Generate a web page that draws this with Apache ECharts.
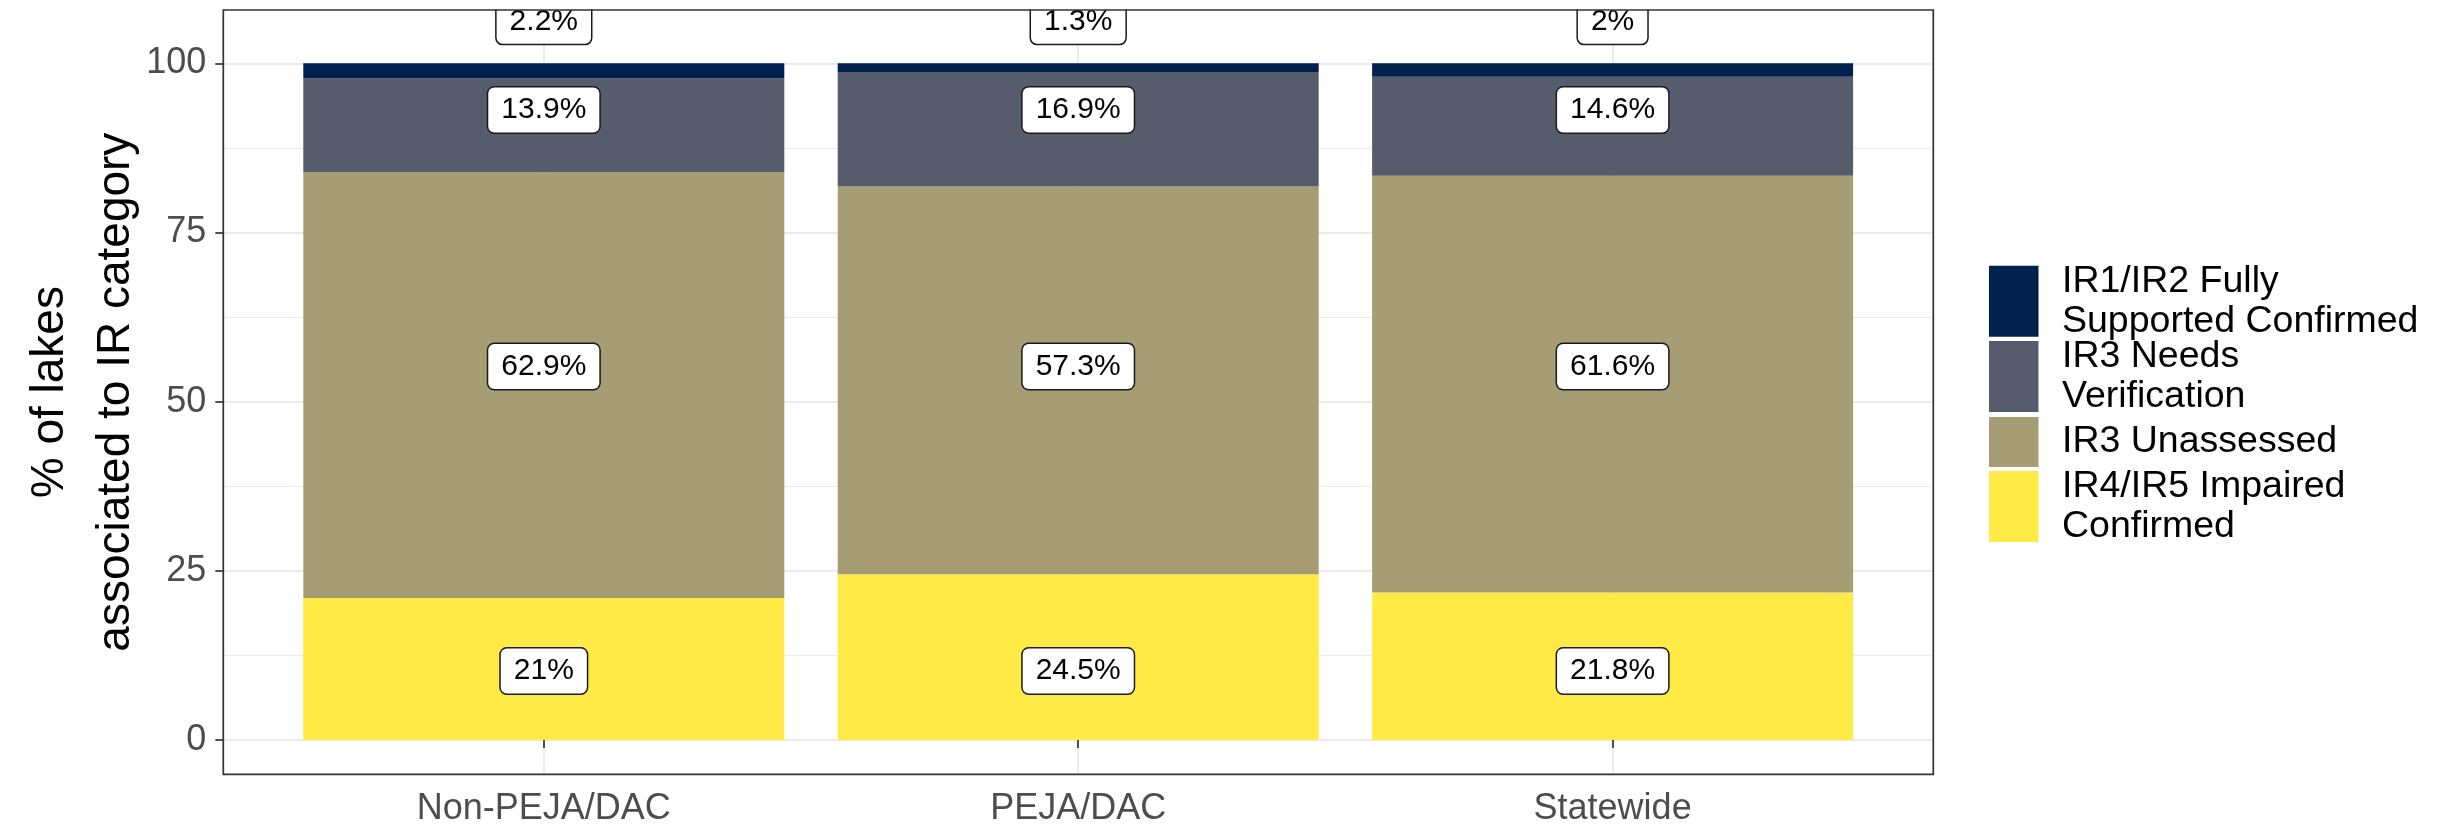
<!DOCTYPE html>
<html>
<head>
<meta charset="utf-8">
<script src="https://cdn.jsdelivr.net/npm/echarts@6/dist/echarts.min.js"></script>
<style>
html,body{margin:0;padding:0;background:#fff;}
#chart{width:2446px;height:828px;}
</style>
</head>
<body>
<div id="chart"></div>
<script>
// ---- data ----
const categories = ['Non-PEJA/DAC', 'PEJA/DAC', 'Statewide'];
const seriesNames = [
  'IR1/IR2 Fully Supported Confirmed',
  'IR3 Needs Verification',
  'IR3 Unassessed',
  'IR4/IR5 Impaired Confirmed'
];
const legendLabels = [
  'IR1/IR2 Fully\nSupported Confirmed',
  'IR3 Needs\nVerification',
  'IR3 Unassessed',
  'IR4/IR5 Impaired\nConfirmed'
];
const ir12 = [2.2, 1.3, 2];
const ir3Needs = [13.9, 16.9, 14.6];
const ir3Unassessed = [62.9, 57.3, 61.6];
const ir45 = [21, 24.5, 21.8];
const yTicks = [0, 25, 50, 75, 100];
// label anchor heights (percent units) for each layer: IR1/IR2, IR3 Needs, IR3 Unassessed, IR4/IR5
const labelY = [106.2, 93.1, 55.2, 10.2];

const colors = ['#00204D', '#575C6D', '#A69D75', '#FFEA46'];
const FONT = '"Liberation Sans", Arial, sans-serif';

// ---- build ----
const valuesByLayer = [ir12, ir3Needs, ir3Unassessed, ir45];
const stackOrder = [3, 2, 1, 0]; // bottom to top
const barSeries = stackOrder.map(i => ({
  name: seriesNames[i],
  type: 'bar',
  stack: 'total',
  xAxisIndex: 0,
  yAxisIndex: 0,
  barWidth: 481,
  clip: false,
  itemStyle: { color: colors[i] },
  emphasis: { disabled: true },
  data: valuesByLayer[i].slice(),
  z: 2
}));

const labelData = [];
valuesByLayer.forEach((arr, i) => {
  arr.forEach((v, c) => labelData.push({ value: [c, labelY[i], v] }));
});

const labelSeries = {
  type: 'scatter',
  xAxisIndex: 0,
  yAxisIndex: 0,
  symbol: 'rect',
  symbolSize: 0.1,
  itemStyle: { color: 'rgba(0,0,0,0)', opacity: 1 },
  emphasis: { disabled: true },
  silent: true,
  clip: false,
  z: 5,
  label: {
    show: true,
    position: 'inside',
    formatter: p => p.value[2] + '%',
    fontFamily: FONT,
    fontSize: 30,
    lineHeight: 30,
    color: '#000',
    opacity: 1,
    backgroundColor: '#ffffff',
    borderColor: '#1a1a1a',
    borderWidth: 1.5,
    borderRadius: 6,
    padding: [8, 13, 7, 13]
  },
  data: labelData
};

const legendTops = [261.2, 336.5, 417, 466.5];
const legends = seriesNames.map((n, i) => ({
  data: [n],
  orient: 'vertical',
  left: 1989,
  top: legendTops[i],
  padding: 0,
  itemWidth: 49.5,
  itemHeight: i === 2 ? 50 : 71,
  icon: 'rect',
  selectedMode: false,
  formatter: name => legendLabels[seriesNames.indexOf(name)],
  textStyle: {
    fontFamily: FONT,
    fontSize: 37.5,
    lineHeight: 40,
    color: '#000',
    padding: [0, 0, 0, 18.5]
  }
}));

const chart = echarts.init(document.getElementById('chart'), null, { renderer: 'canvas' });
chart.setOption({
  backgroundColor: '#fff',
  animation: false,
  grid: [
    { left: 543.8, right: 833.4, top: 10, bottom: 53.7 },
    { left: 223.3, right: 512.7, top: 63.3, bottom: 88 }
  ],
  legend: legends,
  xAxis: [
    {
      type: 'category',
      gridIndex: 0,
      data: categories,
      boundaryGap: false,
      axisLine: { show: false },
      axisTick: { show: true, inside: false, length: 8, lineStyle: { color: '#333333', width: 1.7 } },
      axisLabel: { show: true, interval: 0, margin: 17, color: '#4D4D4D', fontSize: 36, fontFamily: FONT },
      splitLine: { show: true, lineStyle: { color: '#EBEBEB', width: 2 } },
      z: 0
    },
    {
      type: 'value',
      gridIndex: 1,
      min: 0,
      max: 1,
      show: false
    }
  ],
  yAxis: [
    {
      type: 'value',
      gridIndex: 0,
      min: -5.07,
      max: 107.88,
      name: '% of lakes\nassociated to IR category',
      nameLocation: 'middle',
      nameRotate: 90,
      nameGap: 394,
      nameTextStyle: { fontFamily: FONT, fontSize: 46, lineHeight: 66, color: '#000' },
      axisLine: { show: false },
      axisTick: { show: false },
      axisLabel: { show: false },
      splitLine: { show: false }
    },
    {
      type: 'value',
      gridIndex: 1,
      min: 0,
      max: 100,
      interval: 25,
      axisLine: { show: false },
      axisTick: { show: true, inside: false, length: 8, lineStyle: { color: '#333333', width: 1.7 } },
      axisLabel: {
        show: true, margin: 17, color: '#4D4D4D', fontSize: 36, fontFamily: FONT,
        customValues: yTicks
      },
      splitLine: { show: true, lineStyle: { color: '#EBEBEB', width: 2 } },
      minorTick: { show: false, splitNumber: 2 },
      minorSplitLine: { show: true, lineStyle: { color: '#EBEBEB', width: 1 } },
      z: 0
    }
  ],
  series: barSeries.concat([labelSeries]),
  graphic: [
    {
      type: 'rect',
      z: 100,
      silent: true,
      shape: { x: 223.3, y: 0, width: 1710, height: 9.2 },
      style: { fill: '#fff', stroke: null }
    },
    {
      type: 'rect',
      z: 101,
      silent: true,
      shape: { x: 223.3, y: 10, width: 1710, height: 764.3 },
      style: { fill: 'rgba(0,0,0,0)', stroke: '#333333', lineWidth: 1.7 }
    }
  ]
});
</script>
</body>
</html>
